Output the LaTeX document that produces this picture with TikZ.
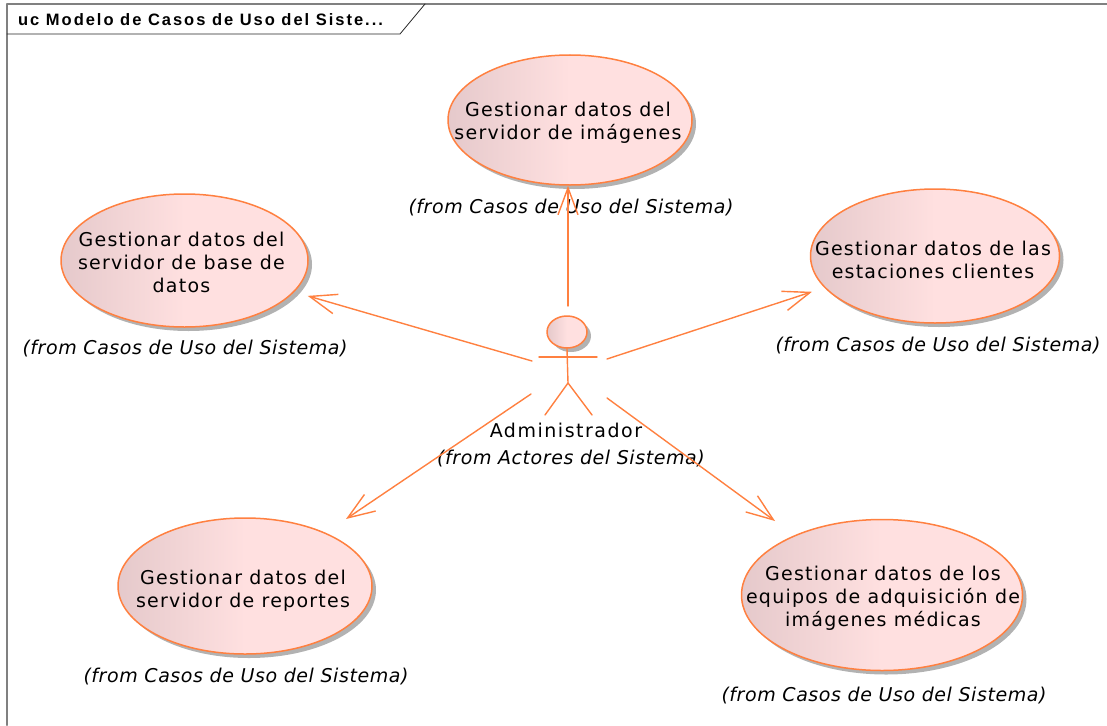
\documentclass[tikz,border=0pt]{standalone}
\usepackage{fontspec}
\setmainfont{DejaVu Sans}
\setsansfont{Liberation Sans}
\usetikzlibrary{arrows.meta,shapes.geometric,shadows}
\definecolor{ucline}{HTML}{FF8040}
\definecolor{ucfill}{HTML}{FFE0E0}
\definecolor{ucdark}{HTML}{E5C9CB}
\tikzset{
	ucase/.style={ellipse, draw=ucline, line width=1.5pt, left color=ucdark, right color=ucfill, middle color=ucfill,
		drop shadow={shadow xshift=4pt, shadow yshift=-4pt, fill=black!30, opacity=1},
		inner sep=0pt},
	uctexto/.style={align=center, inner sep=0pt, font=\fontsize{19}{23}\selectfont\addfontfeature{LetterSpace=6.5}},
	origen/.style={inner sep=0pt, font=\fontsize{19}{23}\selectfont\itshape\addfontfeature{LetterSpace=3}},
	uso/.style={draw=ucline, line width=1.4pt, -{Straight Barb[length=27pt,width=20pt]}},
	actor/.style={draw=ucline, line width=1.4pt}
}
\begin{document}
\begin{tikzpicture}[x=1pt, y=-1pt, line join=round, line cap=round]
	\useasboundingbox (0,0) rectangle (1107,725);
	\draw [black!50, line width=2pt] (7,725)--(7,4)--(1107,4); % Marco
	\draw [black!85, line width=.8pt] (7,34)--(400,34)--(425,4);
	\node (titulo) at (18,19.5)[right, inner sep=0pt, font=\sffamily\bfseries\fontsize{16.5}{18}\selectfont\addfontfeature{LetterSpace=12}]{uc Modelo de Casos de Uso del Siste...};

	\node (ucImg) at (570,120)[ucase, minimum width=244pt, minimum height=130pt]{};
	\node (ucBD) at (184.5,260.5)[ucase, minimum width=247pt, minimum height=133pt]{};
	\node (ucEst) at (935,256)[ucase, minimum width=249pt, minimum height=134pt]{};
	\node (ucRep) at (245,586)[ucase, minimum width=254pt, minimum height=136pt]{};
	\node (ucEq) at (882,595)[ucase, minimum width=281pt, minimum height=151pt]{};

	\node (tImg) at (568,123)[uctexto]{Gestionar datos del\\servidor de imágenes};
	\node (tBD) at (181.5,262.5)[uctexto]{Gestionar datos del\\servidor de base de\\datos};
	\node (tEst) at (933,259.5)[uctexto]{Gestionar datos de las\\estaciones clientes};
	\node (tRep) at (243,591)[uctexto]{Gestionar datos del\\servidor de reportes};
	\node (tEq) at (883,598.5)[uctexto]{Gestionar datos de los\\equipos de adquisición de\\imágenes médicas};

	\node (fImg) at (571,208)[origen]{(from Casos de Uso del Sistema)};
	\node (fBD) at (185,349)[origen]{(from Casos de Uso del Sistema)};
	\node (fEst) at (938,346)[origen]{(from Casos de Uso del Sistema)};
	\node (fRep) at (246,677)[origen]{(from Casos de Uso del Sistema)};
	\node (fEq) at (884,696)[origen]{(from Casos de Uso del Sistema)};

	% Actor
	\node (cabeza) at (567,332)[ucase, minimum width=40pt, minimum height=32pt]{};
	\coordinate (cadera) at (568,383);
	\coordinate (brazoI) at (539,357);
	\coordinate (brazoD) at (597,357);
	\coordinate (pieI) at (545,415);
	\coordinate (pieD) at (592,415);
	\draw [actor] (cabeza.south)--(cadera);
	\draw [actor] (brazoI)--(brazoD);
	\draw [actor] (pieI)--(cadera)--(pieD);
	\node (admin) at (566,430)[uctexto, font=\fontsize{19}{23}\selectfont\addfontfeature{LetterSpace=8}]{Administrador};
	\node (fAdmin) at (571,459)[origen]{(from Actores del Sistema)};

	\coordinate (cImg) at (568,306);
	\coordinate (cBD) at (532,361);
	\coordinate (cEst) at (607,359);
	\coordinate (cRep) at (531,394);
	\coordinate (cEq) at (607,398);
	\coordinate (pEq) at (775,521);
	\coordinate (pRep) at (346,519);
	\draw [uso] (cImg)--(cImg |- ucImg.south);
	\draw [uso, shorten >=14pt] (cBD)--(ucBD.-16);
	\draw [uso, shorten >=13pt] (cEst)--(ucEst.196.5);
	\draw [uso] (cRep)--(pRep);
	\draw [uso] (cEq)--(pEq);
\end{tikzpicture}
\end{document}
